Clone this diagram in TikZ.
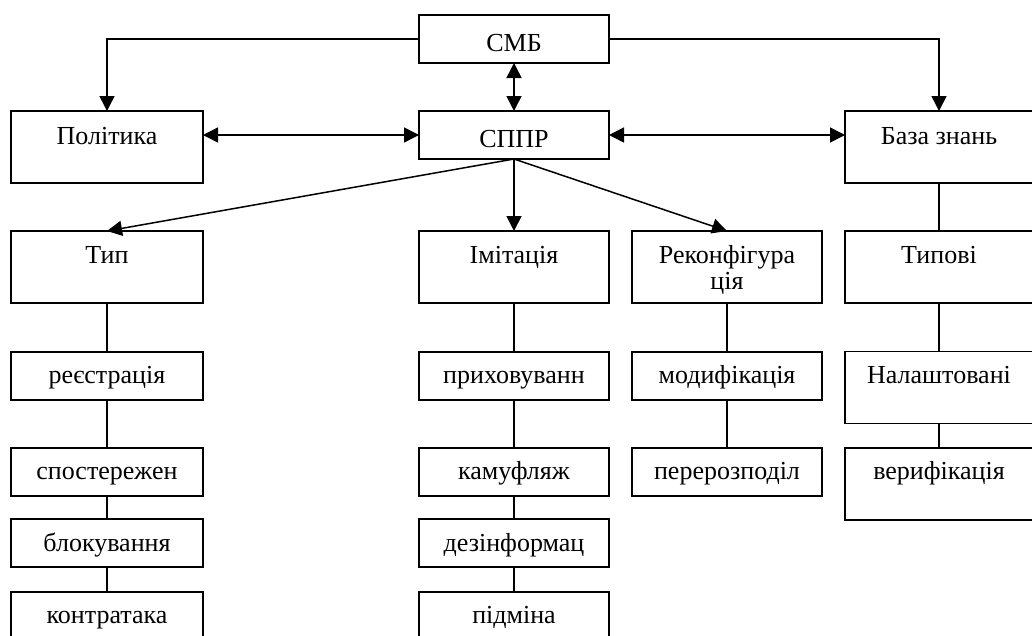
\documentclass[tikz,border=0pt]{standalone}
\usepackage{fontspec}
\setmainfont{Liberation Serif}
\usetikzlibrary{arrows.meta,calc}
\tikzset{
  bx/.style 2 args={draw, line width=1.7pt, minimum width=#1, minimum height=#2, inner sep=0pt, outer sep=0pt},
  lbl/.style={anchor=base, inner sep=0pt, font=\fontsize{26}{26}\selectfont, align=center},
  conn/.style={line width=1.5pt},
  arr/.style={conn, -{Triangle[length=15pt,width=15pt]}},
  darr/.style={conn, {Triangle[length=15pt,width=15pt]}-{Triangle[length=15pt,width=15pt]}}
}
\begin{document}
\begin{tikzpicture}[x=1pt,y=-1pt]
\useasboundingbox (0,0) rectangle (1032,635);
\clip (0,0) rectangle (1032,635);
% top row
\node[bx={190pt}{48pt}] (smb) at (514,39) {};
\node[bx={190pt}{48pt}] (sppr) at (514,135) {};
\node[bx={192pt}{72pt}] (pol) at (107,147) {};
\node[bx={188pt}{72pt}] (bz) at (939,147) {};
% second row
\node[bx={192pt}{72pt}] (tip) at (107,267) {};
\node[bx={190pt}{72pt}] (imit) at (514,267) {};
\node[bx={190pt}{72pt}] (rek) at (727,267) {};
\node[bx={188pt}{72pt}] (typ) at (939,267) {};
% column 1
\node[bx={192pt}{48pt}] (reye) at (107,375.7) {};
\node[bx={192pt}{48pt}] (spos) at (107,471.7) {};
\node[bx={192pt}{48pt}] (blok) at (107,543.2) {};
\node[bx={192pt}{48pt}] (kont) at (107,615.7) {};
% column 2
\node[bx={190pt}{48pt}] (prykh) at (514,375.7) {};
\node[bx={190pt}{48pt}] (kamu) at (514,471.7) {};
\node[bx={190pt}{48pt}] (dezi) at (514,543.2) {};
\node[bx={190pt}{48pt}] (pidm) at (514,615.7) {};
% column 3
\node[bx={190pt}{48pt}] (modi) at (727,375.7) {};
\node[bx={190pt}{48pt}] (pere) at (727,471.7) {};
% column 4
\node[bx={188pt}{72pt}] (nala) at (939,387.5) {};
\node[bx={188pt}{72pt}] (veri) at (939,483.8) {};
% labels
\node[lbl] (tsmb) at ($(smb.north)+(0,36.5)$) {СМБ};
\node[lbl] (tsppr) at ($(sppr.north)+(0,36)$) {СППР};
\node[lbl] (tpol) at ($(pol.north)+(0,33)$) {Політика};
\node[lbl] (tbz) at ($(bz.north)+(0,33)$) {База знань};
\node[lbl] (ttip) at ($(tip.north)+(0,32)$) {Тип};
\node[lbl] (timit) at ($(imit.north)+(0,32)$) {Імітація};
\node[lbl] (trek1) at ($(rek.north)+(0,32.3)$) {Реконфігура};
\node[lbl] (trek2) at ($(rek.north)+(0,58.3)$) {ція};
\node[lbl] (ttyp) at ($(typ.north)+(0,32)$) {Типові};
\node[lbl] (treye) at ($(reye.north)+(0,32)$) {реєстрація};
\node[lbl] (tspos) at ($(spos.north)+(0,32)$) {спостережен};
\node[lbl] (tblok) at ($(blok.north)+(0,32)$) {блокування};
\node[lbl] (tkont) at ($(kont.north)+(0,32)$) {контратака};
\node[lbl] (tprykh) at ($(prykh.north)+(0,32)$) {приховуванн};
\node[lbl] (tkamu) at ($(kamu.north)+(0,32)$) {камуфляж};
\node[lbl] (tdezi) at ($(dezi.north)+(0,32)$) {дезінформац};
\node[lbl] (tpidm) at ($(pidm.north)+(0,32)$) {підміна};
\node[lbl] (tmodi) at ($(modi.north)+(0,32)$) {модифікація};
\node[lbl] (tpere) at ($(pere.north)+(0,32)$) {перерозподіл};
\node[lbl] (tnala) at ($(nala.north)+(0,32)$) {Налаштовані};
\node[lbl] (tveri) at ($(veri.north)+(0,32)$) {верифікація};
% connectors
\draw[arr] (smb.west) -| (pol.north);
\draw[arr] (smb.east) -| (bz.north);
\draw[darr] (smb.south) -- (sppr.north);
\draw[darr] (sppr.west -| pol.east) -- (sppr.west);
\draw[darr] (sppr.east) -- (sppr.east -| bz.west);
\draw[arr] (sppr.south) -- (tip.north);
\draw[arr] (sppr.south) -- (imit.north);
\draw[arr] (sppr.south) -- (rek.north);
\draw[conn] (bz.south) -- (typ.north);
\draw[conn] (tip.south) -- (reye.north);
\draw[conn] (reye.south) -- (spos.north);
\draw[conn] (spos.south) -- (blok.north);
\draw[conn] (blok.south) -- (kont.north);
\draw[conn] (imit.south) -- (prykh.north);
\draw[conn] (prykh.south) -- (kamu.north);
\draw[conn] (kamu.south) -- (dezi.north);
\draw[conn] (dezi.south) -- (pidm.north);
\draw[conn] (rek.south) -- (modi.north);
\draw[conn] (modi.south) -- (pere.north);
\draw[conn] (typ.south) -- (nala.north);
\draw[conn] (nala.south) -- (veri.north);
\end{tikzpicture}
\end{document}
